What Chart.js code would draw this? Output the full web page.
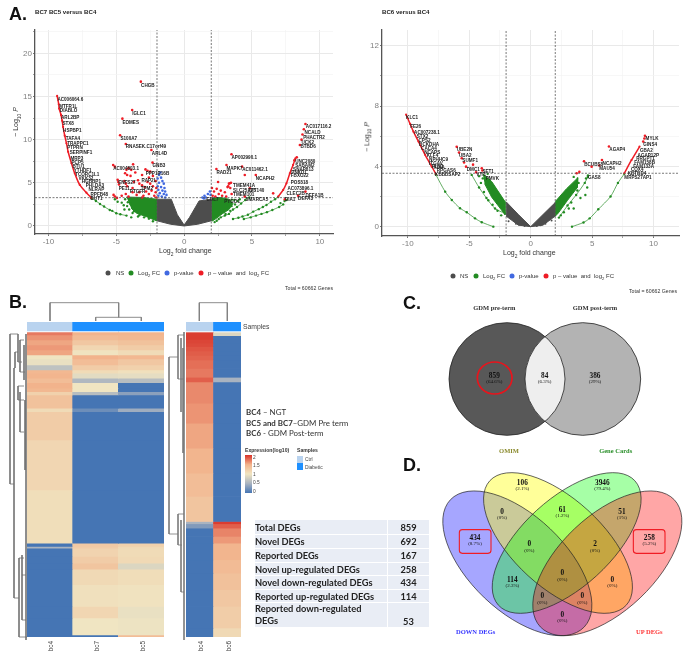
<!DOCTYPE html>
<html>
<head>
<meta charset="utf-8">
<title>DEG figure</title>
<script src="https://cdn.jsdelivr.net/npm/chart.js@4"></script>
<style>
  html, body { margin: 0; padding: 0; background: #fff; }
  #page { position: relative; width: 685px; height: 658px; overflow: hidden; font-family: "Liberation Sans", sans-serif; filter: blur(0.3px); }
  canvas { position: absolute; display: block; }
  .txt { position: absolute; white-space: nowrap; transform: translateY(-50%); line-height: 1; }
  .dot { position: absolute; width: 5px; height: 5px; border-radius: 50%; transform: translate(-50%, -50%); }
  sub { font-size: 70%; line-height: 0; }
  #degTable { position: absolute; left: 254px; top: 519px; width: 176px; height: 109px; border-collapse: collapse; table-layout: fixed;
    font: bold 9.3px Lato, sans-serif; color: #222; }
  #degTable td { background: #e9edf5; border: 0.7px solid #fff; padding: 0; }
</style>
</head>
<body>
<div id="page"></div>
<script>
// ===== Volcano BC7 BC5 versus BC4 =====
const oneRedLeftCurve = [[-9.36,15.06],[-9.24,14.1],[-9.21,13.6],[-9.07,12.86],[-8.99,12.2],[-8.92,11.47],[-8.8,10.46],[-8.67,9.57],[-8.55,8.6],[-8.3,7.26],[-8.06,6.1],[-7.69,4.75],[-7.2,3.86],[-6.83,3.25]];
const oneRedRightCurve = [[6.93,3.4],[7.3,4.17],[7.54,4.94],[7.79,6.1],[8.03,7.07],[8.2,7.84]];
const oneRedRightTop = [[8.94,11.81],[8.82,11.2],[8.72,10.6],[8.65,10],[8.53,9.38],[8.3,7.95],[8.12,7.6]];
const oneRedScatter = [[-3.19,16.72],[-3.83,13.44],[-4.55,12.43],[-4.72,10.5],[-4.3,9.5],[-2.41,8.8],[-2.33,7.34],[-5.23,7.07],[-5.11,6.87],[-3.76,7.14],[-4.1,6.7],[-4.25,6.5],[-3.9,6.5],[-3.6,6.2],[-4.35,6.1],[-4.2,5.9],[-3.95,5.8],[-2.85,6.55],[-2.7,6.4],[-2.5,6.3],[-3.1,5.9],[-2.3,5.8],[-2.6,5.6],[-4.9,5.35],[-4.85,5.1],[-4.8,4.8],[-4.4,5.2],[-4.3,4.9],[-4.2,4.6],[-3.8,4.4],[-3.7,5.1],[-3.4,5.3],[-3.3,4.9],[-3.1,4.7],[-2.9,4.5],[-2.7,5.1],[-2.5,4.9],[-2.3,4.6],[-2.1,5.2],[-2.05,4.4],[-5.2,3.6],[-5.1,3.4],[-4.95,3.25],[-4.6,3.5],[-4.3,3.7],[-4.1,3.4],[-3.8,3.9],[-3.5,3.6],[-3.3,3.9],[-3,3.5],[-2.8,4],[-2.6,3.7],[-2.4,4.1],[-2.2,3.5],[-2.1,3.9],[-2.05,3.3],[-3.1,3.3],
  [3.49,8.3],[2.38,6.6],[3.12,7.07],[4.27,6.87],[4.47,5.9],[5.28,5.9],[4.84,4.36],[4.47,3.4],[6.56,3.78],[8.4,3.5],[8.94,3.98],[7.42,3.09],[3.37,4.94],[3.25,4.6],[2.5,5.1],[2.05,4.4],[2.2,4],[2.4,4.3],[2.55,3.7],[2.7,4.1],[2.8,3.5],[3,3.9],[3.1,3.4],[3.2,4.5],[3.3,4.9],[3.4,4.4],[3.45,5],[3.5,3.7],[2.1,3.5],[2.3,3.4]];
const oneBlueScatter = [[-1.75,6.2],[-1.85,5.9],[-1.7,5.6],[-1.95,5.5],[-1.6,5.2],[-1.85,5],[-1.5,4.9],[-1.95,4.6],[-1.7,4.5],[-1.45,4.4],[-1.9,4.2],[-1.6,4.1],[-1.4,4],[-1.8,3.8],[-1.5,3.7],[-1.3,3.6],[-1.9,3.5],[-1.65,3.4],[-1.4,3.3],[1.35,3.3],[1.5,3.5],[1.6,3.3],[1.75,3.7],[1.9,4],[1.95,3.6],[1.45,3.2]];
const oneGreenCurves = [
  [[-6.83,3.2],[-6.5,2.9],[-6.2,2.55],[-5.9,2.25],[-5.48,1.85],[-5.3,1.75],[-5,1.47],[-4.7,1.35],[-4.25,1.2]],
  [[3.6,.81],[4,.95],[4.3,1.1],[4.7,1.3],[5.09,1.66],[5.5,1.95],[5.8,2.2],[6.07,2.43],[6.4,2.8],[6.7,3.1],[6.93,3.35]],
  [[4.4,.8],[4.9,1],[5.3,1.2],[5.7,1.4],[6.1,1.6],[6.5,1.85],[7,2.2],[7.3,2.5]],
  [[2.7,1],[3,1.2],[3.3,1.4],[3.6,1.9],[3.9,2.2],[4.2,2.6],[4.5,3],[4.8,3.3]]];
const oneGreenScatter = [[-5.1,3.1],[-4.9,2.8],[-4.6,2.7],[-4.45,2.4],[-4.2,2.3],[-4.05,1.9],[-3.9,1],[-3.4,1.1],[-3.8,1.5],[-4.4,1.9],[-4.35,3.1],[-4.15,2.75],[-3.95,2.55],[-4,3.05],[-3.7,1.7],[-3.3,1.25],[-2.95,1],[-2.6,.85],[-2.3,.55],[7.4,2.9],[7.55,3],[7.1,2.65],[3.95,2.9],[3.7,3],[3.5,2.3],[3.75,2.5],[3.4,1.75],[3.05,1.4],[2.55,.8],[2.25,.45],[2.4,.6],[3.5,3.05],[4.1,3.1]];
const oneGreenCloudLeft = [[-4.25,3.35],[-3,3.3],[-2.04,3.1],[-2.04,.6],[-2.78,1.08],[-3.5,1.47],[-3.9,2.05]];
const oneGreenCloudRight = [[2.04,3.2],[2.7,3.3],[3.3,3.1],[3.6,2.6],[3.3,1.9],[2.8,1.4],[2.3,.8],[2.04,.55]];
const oneGreyCloud = [[-2,3.1],[-.95,3.1],[-.5,1.3],[0,.1],[.4,1],[1.1,2.9],[2,3.1],[2,.6],[1,.2],[0,0],[-1,.2],[-2,.6]];
const oneGeneNames = ["AC006064.6","MTFR1L","DIABLO","ARL2BP","STX8","HSPBP1","TAFA4","TRAPPC1","PTPRN","SERPINF1","MRP3","PCP5","BTU1","YTHDF1","TCORC1L1","VKK32","HGBBP1","PHLDA3","NLRAP","RPFB48","DUT1","CHGB","IGLC1","EOMES","S100A7","RNASEK.C17orf49","ARL4D","GNB3","AC004803.1","PPP1R16B","ENFS27","PE11","RAP2L","PTGFR","TPM2","AP002990.1","MAPK7","RAD21","AC011462.1","NCAPH2","TMEM41A","SLC25A25","ZFT140","TMEM101","SMARCA5","PYGO1","CUL7","AC017116.2","NCALD","PHACTR2","UCK2","BTBD6","UNC2080","SABAM2","SNAP813","PNKD1","FBXO22","POS518","AC073896.1","CLEC2B","DEFA1B","DEFA3","DIA1"];
const oneGeneX = [-9.34,-9.21,-9.16,-9.07,-8.97,-8.92,-8.72,-8.62,-8.62,-8.43,-8.38,-8.3,-8.23,-8.13,-8.03,-7.78,-7.54,-7.25,-7.05,-6.9,-6.9,-3.17,-3.83,-4.55,-4.69,-4.3,-2.38,-2.33,-5.23,-2.83,-4.86,-4.82,-3.15,-4,-3.2,3.49,3.12,2.38,4.28,5.28,3.61,3.61,4.72,3.61,4.52,2.95,1.65,8.97,8.87,8.77,8.65,8.57,8.18,8.18,8.03,7.9,7.86,7.86,7.62,7.54,8.94,8.4,7.42];
const oneGeneY = [14.67,13.78,13.32,12.51,11.89,11.04,10.12,9.58,9.07,8.46,7.84,7.37,6.91,6.45,5.98,5.5,5.1,4.63,4.17,3.63,3.17,16.29,12.97,12,10.12,9.15,8.42,6.99,6.68,6.1,5.02,4.36,5.2,3.96,4.36,7.92,6.64,6.18,6.49,5.48,4.71,4.1,4.05,3.59,3.01,2.86,3.01,11.47,10.85,10.23,9.65,9.15,7.45,6.99,6.56,6.2,5.79,5.06,4.29,3.78,3.55,3.13,3.01];

// ===== Volcano BC6 versus BC4 =====
const twoRedLeftCurve = [[-10.14,7.43],[-9.81,6.81],[-9.54,6.3],[-9.13,5.64],[-8.59,4.76],[-8.05,3.98],[-7.72,3.5]];
const twoRedRightCurve = [[7.62,3.54],[8.21,4.42],[8.86,5.31]];
const twoRedScatter = [[9.16,5.64],[9.3,6.02],[9.25,5.85],[-6.02,5.29],[-5.83,4.91],[-5.61,4.54],[-5.42,4.25],[-4.69,4.11],[-5.26,3.98],[-4.44,3.6],[-3.98,3.87],[-3.93,3.72],[6.37,5.31],[5.8,4.42],[5.58,4.05],[4.96,3.98],[4.34,4.34],[3.96,3.63],[3.74,3.54]];
const twoGreenCurves = [
  [[-7.72,3.45],[-6.96,2.32],[-6.42,1.77],[-5.75,1.22],[-5.2,.95],[-4.53,.55],[-3.98,.29],[-3.04,0]],
  [[-4.8,3.43],[-4.2,2.6],[-3.6,1.9],[-2.9,1.2],[-2.09,.88]],
  [[3.36,0],[4.3,.28],[4.8,.55],[5.5,1.15],[6.5,2],[7.1,2.9],[7.62,3.5]],
  [[2.3,.6],[3,1.4],[3.7,2.1],[4.4,2.9],[4.65,3.3]]];
const twoGreenScatter = [[-4.2,3.35],[-3.9,3.2],[-3.6,3.1],[-3.5,3.5],[-4.05,2.9],[-3.8,2.3],[-3.45,1.75],[-3.1,1.45],[-2.7,1.05],[-2.4,.75],[4.66,3.4],[4.5,3.2],[3.9,2.9],[3.8,2.4],[4.05,1.9],[4.45,2.1],[4.6,2.6],[3.5,1.2],[3.1,1.2],[3.3,1.6],[2.7,.95],[2.45,.75],[3.5,3.3]];
const twoGreenCloudLeft = [[-3.9,3.5],[-3.17,2.99],[-2.09,1.66],[-2.09,.8],[-3.17,1.95],[-3.75,2.85]];
const twoGreenCloudRight = [[2,1.66],[2.9,2.5],[3.85,3.25],[3.8,2.6],[3,1.75],[2.2,.85],[2,.7]];
const twoGreyCloud = [[-2,1.65],[-1,.8],[0,0],[1,.8],[2,1.6],[2,.7],[1,.1],[0,0],[-1,.1],[-2,.7]];
const twoGreyScatter = [[-1.8,.35],[-1.2,.2],[-.95,.15],[.8,.1],[1.2,.2],[1.7,.4],[-.5,.05],[.5,.05]];
const twoGeneNames = ["KLC1","FE26","AC007238.1","STX2","CPS2","BCKDHA","CACA4","NCAPS","KLF4","NPHHC9","ITGAV","PLN3","RPGAS6","KIAA","KBBDSAP2","UBE2N","UBA2","SUMF1","DMC1","SET1","VTI1","PMVK","AGAP4","NCAPH2","BCUBS8","MAU54","GAS8","MYLK","GINS4","GBA2","AGAP12P","RRGPT1","FAM158B","FAM133A","COX4","KBTBD4","MRPS27AP1"];
const twoGeneX = [-10.14,-9.81,-9.49,-9.27,-9.13,-9.08,-8.92,-8.67,-8.46,-8.27,-8.27,-8.06,-7.64,-7.9,-7.78,-6.02,-5.83,-5.56,-5.2,-3.93,-4.42,-3.66,6.4,5.85,4.36,5.58,4.66,9.35,9.16,8.89,8.7,8.59,8.43,8.35,8.16,7.89,7.62];
const twoGeneY = [7.21,6.62,6.22,5.93,5.71,5.46,5.18,4.91,4.69,4.45,4.2,3.96,3.72,3.88,3.43,5.07,4.69,4.34,3.78,3.65,3.47,3.21,5.09,4.2,4.12,3.87,3.23,5.82,5.44,5.04,4.73,4.51,4.25,4,3.76,3.52,3.25];

const oneXTicks = [-10,-7.5,-5,-2.5,0,2.5,5,7.5,10];
const oneYTicks = [0,2.5,5,7.5,10,12.5,15,17.5,20,22.5];
const twoXTicks = [-10,-7.5,-5,-2.5,0,2.5,5,7.5,10];
const twoYTicks = [0,2,4,6,8,10,12];
const oneYMajor = [0,5,10,15,20];
const twoYMajor = [0,4,8,12];
const xMajor = [-10,-5,0,5,10];
const oneCutP = 3.28;
const twoCutP = 3.54;
const cutFC = 2;

// ===== Heatmaps: row span and expression(log10) per sample =====
const heatOneSamples = ["bc4","bc7","bc5"];
const heatOneGroups = ["Ctrl","Diabetic","Diabetic"];
const heatOneSpans = [7,15,15,15,15,12,18,15,10,15,13,17,10,10,40,10,85,150,160,10,5,25,20,18,47,65,35,51,6];
const heatOneBc4 = [1.72,1.62,1.55,1.6,1.55,1,.95,.65,1.45,1.48,1.4,1.5,1.45,1.2,1.35,1.1,1.25,1.15,1.07,0,.5,0,0,0,0,0,0,0,0];
const heatOneBc7 = [1.5,1.42,1.3,1.15,1.02,1.5,1.4,1.25,1.1,.9,.55,1,1,.6,0,.2,0,0,0,1.28,1.25,1.18,1.25,1.32,1.12,1.05,1.15,1,0];
const heatOneBc5 = [1.48,1.45,1.35,1.25,1.1,1.45,1.3,1.2,1.05,.92,.6,0,0,.35,0,.45,0,0,0,1.2,1.12,1.1,1.12,.85,1.08,1.03,.95,.98,1.4];
const heatTwoSamples = ["bc4","bc6"];
const heatTwoGroups = ["Ctrl","Diabetic"];
const heatTwoSpans = [9,11,11,11,13,13,14,26,26,14,64,60,75,75,70,75,7,13,25,20,50,40,50,50,65,27];
const heatTwoBc4 = [1.95,1.95,1.92,1.9,1.86,1.83,1.8,1.76,1.72,1.82,1.66,1.62,1.55,1.48,1.4,1.32,.5,.3,0,0,0,0,0,0,0,0];
const heatTwoBc6 = [.85,0,0,0,0,0,0,0,0,.5,0,0,0,0,0,0,1.95,1.82,1.68,1.6,1.48,1.42,1.36,1.3,1.24,1.12];
const legendStops = [0,.5,1,1.5,2];
const legendColors = ["#4575b4","#a9b3c0","#f0e5c2","#f2b38c","#d73027"];
const groupColors = { Ctrl: "#b9d3ef", Diabetic: "#1e90ff" };

// ===== Venn diagrams =====
const vennTwoCounts = ["859","84","386"];
const vennTwoShares = ["(64.6%)","(6.3%)","(29%)"];
const vennTwoCountX = [193,344,495];
const vennTwoCountY = [257,257,257];
const vennFourCounts = ["434","106","3946","0","61","51","0","2","258","114","0","0","0","0","0"];
const vennFourShares = ["(8.7%)","(2.1%)","(79.4%)","(0%)","(1.2%)","(1%)","(0%)","(0%)","(5.2%)","(2.3%)","(0%)","(0%)","(0%)","(0%)","(0%)"];
const vennFourCountX = [135,277,517,216,397,576,298,495,658,247,397,547,337,457,397];
const vennFourCountY = [743,578,578,665,659,665,763,763,743,869,850,869,919,919,975];
const vennFourFills = ["rgba(0,0,255,.35)","rgba(255,255,0,.4)","rgba(0,255,0,.35)","rgba(255,0,0,.35)"];

// ===== Summary table =====
const tableLabels = ["Total DEGs","Novel DEGs","Reported DEGs","Novel up-regulated DEGs","Novel down-regulated DEGs","Reported up-regulated DEGs","Reported down-regulated<br>DEGs"];
const tableCounts = [859,692,167,258,434,114,53];

const page = document.getElementById("page");

// ===== Helpers =====
function addCanvas(left, top, w, h) {
  const c = document.createElement("canvas");
  c.width = w; c.height = h;
  c.style.cssText = `left:${left}px;top:${top}px;width:${w}px;height:${h}px`;
  page.appendChild(c);
  return c;
}

function addText(html, x, y, css) {
  const d = document.createElement("div");
  d.className = "txt";
  d.innerHTML = html;
  d.style.cssText = `left:${x}px;top:${y}px;${css || ""}`;
  page.appendChild(d);
  return d;
}

function addDot(x, y, color) {
  const d = document.createElement("div");
  d.className = "dot";
  d.style.cssText = `left:${x}px;top:${y}px;background:${color}`;
  page.appendChild(d);
}

function expressionColor(v) {
  let i = 0;
  while (i < legendStops.length - 2 && v > legendStops[i + 1]) i++;
  const t = (v - legendStops[i]) / (legendStops[i + 1] - legendStops[i]);
  const a = legendColors[i], b = legendColors[i + 1];
  const ch = (h, p) => parseInt(h.substr(p, 2), 16);
  const mix = (p) => Math.round(ch(a, p) + (ch(b, p) - ch(a, p)) * t);
  return `rgb(${mix(1)},${mix(3)},${mix(5)})`;
}

const toPoints = (pairs) => pairs.map((p) => ({ x: p[0], y: p[1] }));

const geneLabelPlugin = {
  id: "geneLabels",
  afterDatasetsDraw(chart, args, opts) {
    const { ctx, scales } = chart;
    ctx.save();
    ctx.font = "bold 4.6px 'Liberation Sans'";
    ctx.fillStyle = "#222";
    ctx.textBaseline = "middle";
    opts.names.forEach((n, i) => {
      ctx.fillText(n, scales.x.getPixelForValue(opts.xs[i]), scales.y.getPixelForValue(opts.ys[i]));
    });
    ctx.restore();
  },
};

// ===== Volcano =====
function makeVolcano(canvas, cfg) {
  const dots = (pairs, color, r) => ({ type: "scatter", data: toPoints(pairs), backgroundColor: color, borderWidth: 0, pointRadius: r, showLine: false });
  const curve = (pairs, color, w, r) => ({ type: "scatter", data: toPoints(pairs), borderColor: color, backgroundColor: color, borderWidth: w, pointRadius: r, pointBorderWidth: 0, showLine: true, tension: 0.3 });
  const cloud = (pairs, color) => ({ type: "scatter", data: toPoints(pairs), borderColor: color, backgroundColor: color, borderWidth: 1, pointRadius: 0, showLine: true, fill: "shape" });
  const dash = (pairs) => ({ type: "scatter", data: toPoints(pairs), borderColor: "#555", borderWidth: 0.8, borderDash: [2, 1.5], pointRadius: 0, showLine: true });

  const datasets = [
    dash([[-cutFC, cfg.yMin], [-cutFC, cfg.yMax]]),
    dash([[cutFC, cfg.yMin], [cutFC, cfg.yMax]]),
    dash([[cfg.xMin, cfg.cutP], [cfg.xMax, cfg.cutP]]),
  ];
  cfg.redCurves.forEach((c) => datasets.push(curve(c, "#ee1c25", 1.5, 1.1)));
  datasets.push(dots(cfg.red, "#ee1c25", 1.3));
  if (cfg.blue) datasets.push(dots(cfg.blue, "#4169e1", 1.3));
  if (cfg.grey) datasets.push(dots(cfg.grey, "#4d4d4d", 1));
  cfg.greenCurves.forEach((c) => datasets.push(curve(c, "#228b22", 0.7, 1.2)));
  datasets.push(dots(cfg.green, "#228b22", 1.2));
  datasets.push(cloud(cfg.cloudLeft, "#228b22"), cloud(cfg.cloudRight, "#228b22"));
  datasets.push(cloud(cfg.greyCloud, "#4d4d4d"));

  return new Chart(canvas.getContext("2d"), {
    type: "scatter",
    data: { datasets },
    plugins: [geneLabelPlugin],
    options: {
      responsive: false,
      animation: false,
      layout: { padding: { top: cfg.top, right: cfg.right } },
      plugins: {
        legend: { display: false },
        tooltip: { enabled: false },
        geneLabels: { names: cfg.names, xs: cfg.geneX, ys: cfg.geneY },
      },
      scales: {
        x: {
          type: "linear", min: cfg.xMin, max: cfg.xMax,
          afterBuildTicks: (s) => { s.ticks = cfg.xTicks.map((v) => ({ value: v })); },
          afterFit: (s) => { s.height = cfg.bottom; },
          border: { color: "#555", width: 1.3 },
          grid: {
            color: (c) => (xMajor.includes(c.tick.value) ? "#e9e9e9" : "#f3f3f3"),
            lineWidth: (c) => (xMajor.includes(c.tick.value) ? 1 : 0.7),
            tickLength: 2, tickColor: "#777",
          },
          ticks: {
            autoSkip: false, maxRotation: 0, padding: 1, color: "#808080", font: { size: 8, family: "Liberation Sans" },
            callback: (v) => (xMajor.includes(v) ? v : ""),
          },
        },
        y: {
          type: "linear", min: cfg.yMin, max: cfg.yMax,
          afterBuildTicks: (s) => { s.ticks = cfg.yTicks.map((v) => ({ value: v })); },
          afterFit: (s) => { s.width = cfg.left; },
          border: { color: "#555", width: 1.3 },
          grid: {
            color: (c) => (cfg.yMajor.includes(c.tick.value) ? "#e9e9e9" : "#f3f3f3"),
            lineWidth: (c) => (cfg.yMajor.includes(c.tick.value) ? 1 : 0.7),
            tickLength: 2, tickColor: "#777",
          },
          ticks: {
            autoSkip: false, padding: 1, color: "#808080", font: { size: 8, family: "Liberation Sans" },
            callback: (v) => (cfg.yMajor.includes(v) ? v : ""),
          },
        },
      },
    },
  });
}

makeVolcano(addCanvas(0, 0, 345, 250), {
  left: 35, top: 30, right: 12, bottom: 16,
  xMin: -10.99, xMax: 10.97, yMin: -0.93, yMax: 22.7, cutP: oneCutP,
  xTicks: oneXTicks, yTicks: oneYTicks, yMajor: oneYMajor,
  redCurves: [oneRedLeftCurve, oneRedRightCurve], red: oneRedScatter.concat(oneRedRightTop), blue: oneBlueScatter,
  greenCurves: oneGreenCurves, green: oneGreenScatter, cloudLeft: oneGreenCloudLeft, cloudRight: oneGreenCloudRight, greyCloud: oneGreyCloud,
  names: oneGeneNames, geneX: oneGeneX, geneY: oneGeneY,
});

makeVolcano(addCanvas(345, 0, 340, 252), {
  left: 37, top: 30, right: 6, bottom: 16,
  xMin: -12.1, xMax: 12.07, yMin: -0.62, yMax: 13.04, cutP: twoCutP,
  xTicks: twoXTicks, yTicks: twoYTicks, yMajor: twoYMajor,
  redCurves: [twoRedLeftCurve, twoRedRightCurve], red: twoRedScatter, grey: twoGreyScatter,
  greenCurves: twoGreenCurves, green: twoGreenScatter, cloudLeft: twoGreenCloudLeft, cloudRight: twoGreenCloudRight, greyCloud: twoGreyCloud,
  names: twoGeneNames, geneX: twoGeneX, geneY: twoGeneY,
});

// ===== Heatmaps =====
function makeHeat(canvas, samples, groups, spans, columns) {
  const total = 27 + 5 + spans.reduce((a, b) => a + b, 0);
  const datasets = [
    { data: samples.map(() => 27), backgroundColor: groups.map((g) => groupColors[g]) },
    { data: samples.map(() => 5), backgroundColor: "rgba(0,0,0,0)" },
  ];
  spans.forEach((s, i) => {
    datasets.push({ data: samples.map(() => s), backgroundColor: columns.map((col) => expressionColor(col[i])) });
  });
  return new Chart(canvas.getContext("2d"), {
    type: "bar",
    data: { labels: samples, datasets },
    options: {
      responsive: false,
      animation: false,
      plugins: { legend: { display: false }, tooltip: { enabled: false } },
      datasets: { bar: { barPercentage: 1, categoryPercentage: 1, borderWidth: 0 } },
      scales: {
        x: { stacked: true, display: false },
        y: { stacked: true, display: false, reverse: true, min: 0, max: total },
      },
    },
  });
}

makeHeat(addCanvas(27, 322, 137, 315), heatOneSamples, heatOneGroups, heatOneSpans, [heatOneBc4, heatOneBc7, heatOneBc5]);
makeHeat(addCanvas(186, 322, 55, 315), heatTwoSamples, heatTwoGroups, heatTwoSpans, [heatTwoBc4, heatTwoBc6]);

// ===== Dendrograms, segments as x1,y1,x2,y2 on the page =====
const dendroTop = [[50,302.7,118.7,302.7],[50,302.7,50,321],[118.7,302.7,118.7,317.3],[95.7,317.3,141.3,317.3],[95.7,317.3,95.7,321],[141.3,317.3,141.3,321],
  [199.3,302.7,227.3,302.7],[199.3,302.7,199.3,321],[227.3,302.7,227.3,321]];
const dendroSideOne = [[10,334,18,334],[10,334,10,484],[10,484,14,484],[14,368,14,598],[14,368,15,368],[14,598,19,598],[19,558,19,637],[19,558,24,558],[19,637,27,637],
  [18,334,18,362],[15,352,15,368],[15,352,18,352],[18,362,22,362],[20,340,20,372],[20,340,24,340],[20,372,25,372],[18,386,18,400],[18,386,24,386],[18,400,24,400],[20,392,20,432],[20,432,24,432],
  [22,555,22,620],[22,575,26,575],[22,620,26,620],[24,345,24,380],[25,400,25,470],[26,334,26,640]];
const dendroSideTwo = [[169,357,178,357],[169,357,169,534],[169,534,178,534],[178,335,178,379],[178,335,184,335],[178,379,184,379],[181,338,181,412],[183,348,183,453],[178,514,178,545],
  [178,514,184,514],[178,545,182,545],[181,520,181,592],[181,592,184,592],[184,332,184,640]];

function segments(list) {
  const pts = [];
  list.forEach((s) => { pts.push({ x: s[0], y: s[1] }, { x: s[2], y: s[3] }, { x: null, y: null }); });
  return pts;
}

new Chart(addCanvas(0, 295, 250, 350).getContext("2d"), {
  type: "scatter",
  data: {
    datasets: [
      { data: segments(dendroTop), showLine: true, borderColor: "#808080", borderWidth: 0.9, pointRadius: 0, spanGaps: false },
      { data: segments(dendroSideOne), showLine: true, borderColor: "#6e6e6e", borderWidth: 0.8, pointRadius: 0, spanGaps: false },
      { data: segments(dendroSideTwo), showLine: true, borderColor: "#777", borderWidth: 0.8, pointRadius: 0, spanGaps: false },
    ],
  },
  options: {
    responsive: false,
    animation: false,
    plugins: { legend: { display: false }, tooltip: { enabled: false } },
    scales: {
      x: { type: "linear", display: false, min: 0, max: 250 },
      y: { type: "linear", display: false, min: 295, max: 645, reverse: true },
    },
  },
});

// ===== Venn =====
function drawEllipse(ctx, cx, cy, a, b, rot) {
  ctx.beginPath();
  ctx.ellipse(cx, cy, a, b, rot, 0, Math.PI * 2);
}

function roundedBox(ctx, x1, y1, x2, y2, r) {
  ctx.beginPath();
  ctx.roundRect(x1, y1, x2 - x1, y2 - y1, r);
}

const vennPlugin = {
  id: "vennShapes",
  beforeDatasetsDraw(chart) {
    const { ctx, scales } = chart;
    const X = (v) => scales.x.getPixelForValue(v);
    const Y = (v) => scales.y.getPixelForValue(v);
    const R = (v) => v / 3;
    ctx.save();
    // two sets
    const L = [X(231), Y(267), R(174), R(169)];
    const K = [X(458.5), Y(267), R(173.5), R(169)];
    ctx.lineWidth = 0.8;
    ctx.strokeStyle = "#222";
    drawEllipse(ctx, ...L, 0); ctx.fillStyle = "#585858"; ctx.fill();
    drawEllipse(ctx, ...K, 0); ctx.fillStyle = "#b3b3b3"; ctx.fill();
    ctx.save();
    drawEllipse(ctx, ...L, 0); ctx.clip();
    drawEllipse(ctx, ...K, 0); ctx.fillStyle = "#eeeeee"; ctx.fill();
    ctx.restore();
    drawEllipse(ctx, ...L, 0); ctx.stroke();
    drawEllipse(ctx, ...K, 0); ctx.stroke();
    ctx.lineWidth = 1.7;
    ctx.strokeStyle = "#e8141c";
    drawEllipse(ctx, X(194), Y(264), R(52), R(48), 0); ctx.stroke();
    // four sets
    const ell = [[262,820,277,143,.76],[384,759,277,133,.74],[410,759,277,133,-.74],[532,820,277,143,-.76]];
    ell.forEach((e, i) => {
      drawEllipse(ctx, X(e[0]), Y(e[1]), R(e[2]), R(e[3]), e[4]);
      ctx.fillStyle = vennFourFills[i];
      ctx.fill();
    });
    ctx.strokeStyle = "#222";
    ctx.lineWidth = 0.7;
    ell.forEach((e) => { drawEllipse(ctx, X(e[0]), Y(e[1]), R(e[2]), R(e[3]), e[4]); ctx.stroke(); });
    ctx.strokeStyle = "#f01c24";
    ctx.lineWidth = 1.1;
    roundedBox(ctx, X(88), Y(719), X(183), Y(790), 3); ctx.stroke();
    roundedBox(ctx, X(610), Y(719), X(705), Y(790), 3); ctx.stroke();
    ctx.restore();
  },
  afterDatasetsDraw(chart) {
    const { ctx, data } = chart;
    ctx.save();
    ctx.textAlign = "center";
    ctx.textBaseline = "middle";
    ctx.fillStyle = "#111";
    data.datasets.forEach((ds, d) => {
      chart.getDatasetMeta(d).data.forEach((pt, i) => {
        ctx.font = "bold 7.3px 'Liberation Serif'";
        ctx.fillText(ds.counts[i], pt.x, pt.y);
        ctx.font = "5px 'Liberation Serif'";
        ctx.fillText(ds.shares[i], pt.x, pt.y + 6);
      });
    });
    ctx.restore();
  },
};

new Chart(addCanvas(430, 290, 255, 368).getContext("2d"), {
  type: "scatter",
  data: {
    datasets: [
      { data: vennTwoCountX.map((x, i) => ({ x, y: vennTwoCountY[i] })), counts: vennTwoCounts, shares: vennTwoShares, pointRadius: 0 },
      { data: vennFourCountX.map((x, i) => ({ x, y: vennFourCountY[i] })), counts: vennFourCounts, shares: vennFourShares, pointRadius: 0 },
    ],
  },
  plugins: [vennPlugin],
  options: {
    responsive: false,
    animation: false,
    plugins: { legend: { display: false }, tooltip: { enabled: false } },
    scales: {
      x: { type: "linear", display: false, min: 0, max: 765 },
      y: { type: "linear", display: false, min: 0, max: 1104, reverse: true },
    },
  },
});

// ===== Text around the panels =====
const letter = "font:bold 18px 'Liberation Sans';color:#111";
addText("A.", 9, 14, letter);
addText("B.", 9, 302, letter);
addText("C.", 403, 303, letter);
addText("D.", 403, 465, letter);

const headTitle = "font:bold 6.1px 'Liberation Sans';color:#222";
addText("BC7 BC5 versus BC4", 35, 11, headTitle);
addText("BC6 versus BC4", 382, 11, headTitle);

const axisTitle = "font:7px 'Liberation Sans';color:#333";
addText("Log<sub>2</sub> fold change", 159, 250.5, axisTitle);
addText("Log<sub>2</sub> fold change", 503, 252.5, axisTitle);
addText("&#8722; Log<sub>10</sub> <i>P</i>", 16, 122, axisTitle).style.transform = "translate(-50%,-50%) rotate(-90deg)";
addText("&#8722; Log<sub>10</sub> <i>P</i>", 367, 137, axisTitle).style.transform = "translate(-50%,-50%) rotate(-90deg)";

const legendText = "font:6px 'Liberation Sans';color:#333";
[[108, 116, 273], [453, 460, 275.5]].forEach((row) => {
  const o = row[0], y = row[2], t = row[1] - o;
  addDot(o, y, "#4d4d4d"); addText("NS", o + t, y, legendText);
  addDot(o + 23, y, "#228b22"); addText("Log<sub>2</sub> FC", o + 30, y, legendText);
  addDot(o + 59, y, "#4169e1"); addText("p-value", o + 66, y, legendText);
  addDot(o + 93, y, "#ee1c25"); addText("p &#8211; value&nbsp; and&nbsp; log<sub>2</sub> FC", o + 100, y, legendText);
});

const totalText = "font:5.2px 'Liberation Sans';color:#333";
addText("Total = 60662 Genes", 285, 288, totalText);
addText("Total = 60662 Genes", 629, 291, totalText);

const sampleLabel = "font:6.5px 'Liberation Sans';color:#444";
[["bc4", 50], ["bc7", 96], ["bc5", 142], ["bc4", 200], ["bc6", 228]].forEach((s) => {
  addText(s[0], s[1], 646, sampleLabel).style.transform = "translate(-50%,-50%) rotate(-90deg)";
});
addText("Samples", 243, 326, "font:6.8px 'Liberation Sans';color:#444");

const note = "font:7.9px Lato;color:#333";
addText("<b>BC4</b> &#8211; NGT", 246, 412, note);
addText("<b>BC5 and BC7</b>&#8211;GDM Pre term", 246, 422.5, note);
addText("<b>BC6</b> - GDM Post-term", 246, 433, note);

// colour key
addText("Expression(log10)", 245, 450, "font:bold 5.1px 'Liberation Sans';color:#333");
const keyBar = document.createElement("div");
keyBar.style.cssText = "position:absolute;left:245px;top:455px;width:6.5px;height:38px;background:linear-gradient(to top," + legendColors.join(",") + ")";
page.appendChild(keyBar);
[["2", 456.7], ["1.5", 465.3], ["1", 473.7], ["0.5", 482.3], ["0", 491]].forEach((t) => {
  addText(t[0], 253, t[1], "font:4.8px 'Liberation Sans';color:#444");
});
addText("Samples", 297, 450, "font:bold 5.1px 'Liberation Sans';color:#333");
[["Ctrl", 455.7, groupColors.Ctrl], ["Diabetic", 463.3, groupColors.Diabetic]].forEach((g) => {
  const sq = document.createElement("div");
  sq.style.cssText = `position:absolute;left:297px;top:${g[1]}px;width:6px;height:7px;background:${g[2]}`;
  page.appendChild(sq);
  addText(g[0], 305, g[1] + 3.5, "font:4.9px 'Liberation Sans';color:#444");
});

// venn titles
const serifHead = "transform:translate(-50%,-50%);font:bold 6.5px 'Liberation Serif';";
[["GDM pre-term", 494.3, 306.7, "#333"], ["GDM post-term", 595, 306.7, "#333"], ["OMIM", 509, 450, "#8b8b2e"], ["Gene Cards", 615.7, 450, "#2a8f2a"], ["DOWN DEGs", 475.7, 631.3, "#3333ff"], ["UP DEGs", 649.3, 631.3, "#ff3333"]].forEach((t) => {
  addText(t[0], t[1], t[2], serifHead + `color:${t[3]}`);
});

// summary table
const rowHeights = [15, 13.7, 14, 13.7, 14, 13, 24];
const table = document.createElement("table");
table.id = "degTable";
tableLabels.forEach((label, i) => {
  const tr = table.insertRow();
  tr.style.height = rowHeights[i] + "px";
  const a = tr.insertCell(), b = tr.insertCell();
  a.innerHTML = label;
  b.textContent = tableCounts[i];
  a.style.width = "132px";
  b.style.textAlign = "center";
  if (i === 6) { a.style.lineHeight = "12px"; b.style.verticalAlign = "bottom"; }
});
page.appendChild(table);
</script>
</body>
</html>
